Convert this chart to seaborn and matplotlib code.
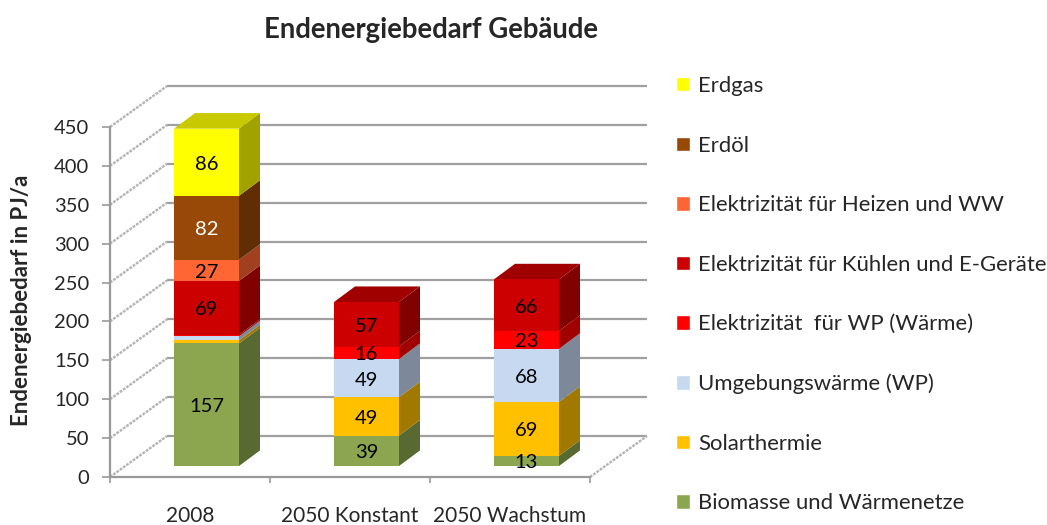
import numpy as np
import pandas as pd
import matplotlib
matplotlib.use('Agg')
import matplotlib.pyplot as plt
from matplotlib.patches import Patch
from matplotlib.transforms import Affine2D
from matplotlib.colors import to_rgb
import seaborn as sns

sns.set_style('white')
plt.rcParams['font.family'] = ['Lato', 'DejaVu Sans']

#chart data
categories = ['2008', '2050 Konstant', '2050 Wachstum']
series_names = ['Biomasse und Wärmenetze', 'Solarthermie', 'Umgebungswärme (WP)',
                'Elektrizität  für WP (Wärme)', 'Elektrizität für Kühlen und E-Geräte',
                'Elektrizität für Heizen und WW', 'Erdöl', 'Erdgas']
biomasse = [157, 39, 13]
solar = [4, 49, 69]
umgebung = [5, 49, 68]
strom_wp = [2, 16, 23]
kuehlen = [69, 57, 66]
heizen = [27, 0, 0]
erdoel = [82, 0, 0]
erdgas = [86, 0, 0]
all_series = [biomasse, solar, umgebung, strom_wp, kuehlen, heizen, erdoel, erdgas]
colors = ['#8CA650', '#FFC000', '#C6D9F1', '#FF0000', '#CC0000', '#FF6633', '#984807', '#FFFF00']
yticks = list(range(0, 451, 50))

fig = plt.figure(figsize=(10.47, 5.25), dpi=100)
ax = fig.add_axes([110/1047, 48/525, 480/1047, 350/525])

#pixel scale of the front plane
px_x = 1/160
px_y = 450/350

#back wall and bar depth offsets (data units)
wall_dx, wall_dy = 57*px_x, 41*px_y
bar_dx, bar_dy = 21*px_x, 15.5*px_y
front = Affine2D().scale(1, 1.004).translate(16.5*px_x, 11*px_y) + ax.transData
bar_width = 65/160

#walls and gridlines
grid_col = '#A0A0A0'
x0, x1 = -0.5, 2.5
for v in yticks:
    ax.plot([x0 + wall_dx, x1 + wall_dx], [v + wall_dy, v + wall_dy], color=grid_col,
            lw=1.6, clip_on=False, zorder=1, solid_capstyle='butt')
    ax.plot([x0, x0 + wall_dx], [v, v + wall_dy], color='#B4B4B4', lw=1.7,
            ls=(0, (1.2, 0.5)), clip_on=False, zorder=1)
ax.plot([x1, x1 + wall_dx], [0, wall_dy], color='#B4B4B4', lw=1.7,
        ls=(0, (1.2, 0.5)), clip_on=False, zorder=1)

#stacked bars
bottom = np.zeros(len(categories))
for name, vals, col in zip(series_names, all_series, colors):
    vals = np.array(vals, dtype=float)
    df = pd.DataFrame({'cat': categories, 'val': vals})
    sns.barplot(data=df, x='cat', y='val', color=col, width=bar_width, bottom=bottom,
                saturation=1, errorbar=None, ax=ax, transform=front, zorder=4, linewidth=0)
    side = np.array(to_rgb(col)) * 0.63
    top = np.array(to_rgb(col)) * 0.79
    for i, v in enumerate(vals):
        if v == 0:
            continue
        xr = i + bar_width/2
        ax.fill([xr, xr + bar_dx, xr + bar_dx, xr],
                [bottom[i], bottom[i] + bar_dy, bottom[i] + v + bar_dy, bottom[i] + v],
                color=side, lw=0, transform=front, zorder=3, clip_on=False)
        #top face only on the last segment of a stack
        if bottom[i] + v == sum(s[i] for s in all_series):
            xl = i - bar_width/2
            ax.fill([xl, xr, xr + bar_dx, xl + bar_dx],
                    [bottom[i] + v, bottom[i] + v, bottom[i] + v + bar_dy, bottom[i] + v + bar_dy],
                    color=top, lw=0, transform=front, zorder=3, clip_on=False)
        if v >= 10:
            txt_col = 'white' if name == 'Erdöl' else 'black'
            ax.text(i, bottom[i] + v/2 - 2*px_y, f'{v:.0f}', ha='center', va='center', color=txt_col,
                    fontsize=14.5, transform=front, zorder=5)
    bottom += vals

#axes
ax.set_xlim(x0, x1)
ax.set_ylim(0, 450)
ax.set_xlabel('')
ax.set_ylabel('Endenergiebedarf in PJ/a', fontsize=16, fontweight='bold')
ax.yaxis.set_label_coords(-0.163, 0.506)
ax.set_yticks(yticks)
ax.set_xticks([-0.5, 0.5, 1.5, 2.5])
ax.set_xticklabels([])
ax.set_xticks([0, 1, 2], minor=True)
ax.set_xticklabels(categories, minor=True, fontsize=15)
ax.tick_params(axis='x', which='minor', length=0, pad=21)
ax.tick_params(axis='x', which='major', length=4.5, width=1.2, color='#999999', bottom=True)
ax.tick_params(axis='y', length=6, width=1.2, color='#999999', labelsize=14.5, left=True, pad=9)
ax.patch.set_alpha(0)
for s in ['top', 'right']:
    ax.spines[s].set_visible(False)
for s in ['left', 'bottom']:
    ax.spines[s].set_color('#999999')
    ax.spines[s].set_linewidth(1.6)

fig.text(431/1047, 1 - 30/525, 'Endenergiebedarf Gebäude', ha='center', va='center',
         fontsize=19.8, fontweight='bold')

#legend, top entry first
handles = [Patch(facecolor=c, label=n) for n, c in zip(series_names[::-1], colors[::-1])]
fig.legend(handles=handles, loc='upper left', bbox_to_anchor=(676/1047, 1 - 76/525),
           frameon=False, fontsize=15.9, labelspacing=1.79, handlelength=0.63,
           handleheight=0.63, handletextpad=0.36, borderpad=0, borderaxespad=0)

plt.savefig('out.png', dpi=100)
